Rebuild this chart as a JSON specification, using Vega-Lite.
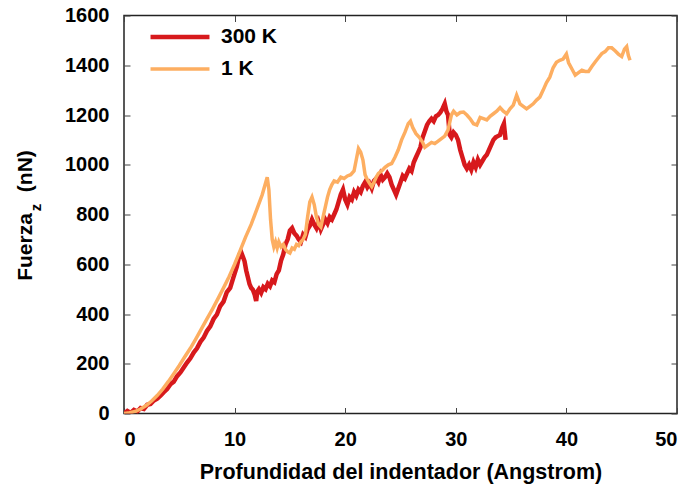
{
  "$schema": "https://vega.github.io/schema/vega-lite/v6.json",
  "width": 553,
  "height": 398,
  "autosize": "none",
  "padding": {"left": 124, "top": 15.5, "right": 19, "bottom": 71.5},
  "background": "white",
  "config": {
    "view": {"stroke": "#222222", "strokeWidth": 1.5},
    "font": "Liberation Sans",
    "axis": {"domain": false, "grid": false, "offset": -6, "labelFont": "Liberation Sans", "labelFontWeight": "bold", "labelFontSize": 20, "labelColor": "#000000", "titleFont": "Liberation Sans", "titleFontWeight": "bold", "titleColor": "#000000", "tickColor": "#444444", "tickWidth": 1, "tickSize": 6, "format": "d"}
  },
  "datasets": {
    "curves": [
      {"d": 0.0, "f": 0, "s": "300 K"}, {"d": 0.3, "f": 10, "s": "300 K"}, {"d": 0.6, "f": 2, "s": "300 K"}, {"d": 0.9, "f": 14, "s": "300 K"}, {"d": 1.2, "f": 8, "s": "300 K"}, {"d": 1.5, "f": 22, "s": "300 K"}, {"d": 1.8, "f": 18, "s": "300 K"}, {"d": 2.1, "f": 35, "s": "300 K"}, {"d": 2.4, "f": 38, "s": "300 K"}, {"d": 2.7, "f": 52, "s": "300 K"}, {"d": 3.0, "f": 60, "s": "300 K"}, {"d": 3.3, "f": 72, "s": "300 K"}, {"d": 3.6, "f": 86, "s": "300 K"}, {"d": 3.9, "f": 98, "s": "300 K"}, {"d": 4.2, "f": 118, "s": "300 K"}, {"d": 4.5, "f": 128, "s": "300 K"}, {"d": 4.8, "f": 150, "s": "300 K"}, {"d": 5.1, "f": 165, "s": "300 K"}, {"d": 5.4, "f": 185, "s": "300 K"}, {"d": 5.7, "f": 205, "s": "300 K"}, {"d": 6.0, "f": 222, "s": "300 K"}, {"d": 6.3, "f": 245, "s": "300 K"}, {"d": 6.6, "f": 262, "s": "300 K"}, {"d": 6.9, "f": 288, "s": "300 K"}, {"d": 7.2, "f": 305, "s": "300 K"}, {"d": 7.5, "f": 332, "s": "300 K"}, {"d": 7.8, "f": 350, "s": "300 K"}, {"d": 8.1, "f": 380, "s": "300 K"}, {"d": 8.4, "f": 398, "s": "300 K"}, {"d": 8.7, "f": 432, "s": "300 K"}, {"d": 9.0, "f": 450, "s": "300 K"}, {"d": 9.3, "f": 488, "s": "300 K"}, {"d": 9.6, "f": 505, "s": "300 K"}, {"d": 9.9, "f": 548, "s": "300 K"}, {"d": 10.2, "f": 590, "s": "300 K"}, {"d": 10.45, "f": 640, "s": "300 K"}, {"d": 10.6, "f": 648, "s": "300 K"}, {"d": 10.75, "f": 630, "s": "300 K"}, {"d": 10.9, "f": 612, "s": "300 K"}, {"d": 11.05, "f": 575, "s": "300 K"}, {"d": 11.2, "f": 548, "s": "300 K"}, {"d": 11.35, "f": 520, "s": "300 K"}, {"d": 11.5, "f": 505, "s": "300 K"}, {"d": 11.65, "f": 498, "s": "300 K"}, {"d": 11.8, "f": 480, "s": "300 K"}, {"d": 11.95, "f": 452, "s": "300 K"}, {"d": 12.05, "f": 490, "s": "300 K"}, {"d": 12.2, "f": 500, "s": "300 K"}, {"d": 12.4, "f": 485, "s": "300 K"}, {"d": 12.6, "f": 508, "s": "300 K"}, {"d": 12.8, "f": 500, "s": "300 K"}, {"d": 13.0, "f": 522, "s": "300 K"}, {"d": 13.2, "f": 512, "s": "300 K"}, {"d": 13.4, "f": 535, "s": "300 K"}, {"d": 13.6, "f": 528, "s": "300 K"}, {"d": 13.8, "f": 560, "s": "300 K"}, {"d": 14.0, "f": 575, "s": "300 K"}, {"d": 14.2, "f": 615, "s": "300 K"}, {"d": 14.4, "f": 640, "s": "300 K"}, {"d": 14.6, "f": 680, "s": "300 K"}, {"d": 14.8, "f": 700, "s": "300 K"}, {"d": 15.0, "f": 735, "s": "300 K"}, {"d": 15.2, "f": 745, "s": "300 K"}, {"d": 15.4, "f": 725, "s": "300 K"}, {"d": 15.6, "f": 715, "s": "300 K"}, {"d": 15.8, "f": 700, "s": "300 K"}, {"d": 16.0, "f": 690, "s": "300 K"}, {"d": 16.2, "f": 720, "s": "300 K"}, {"d": 16.4, "f": 710, "s": "300 K"}, {"d": 16.6, "f": 740, "s": "300 K"}, {"d": 16.8, "f": 755, "s": "300 K"}, {"d": 17.0, "f": 780, "s": "300 K"}, {"d": 17.2, "f": 760, "s": "300 K"}, {"d": 17.4, "f": 745, "s": "300 K"}, {"d": 17.6, "f": 770, "s": "300 K"}, {"d": 17.8, "f": 740, "s": "300 K"}, {"d": 18.0, "f": 760, "s": "300 K"}, {"d": 18.2, "f": 780, "s": "300 K"}, {"d": 18.4, "f": 765, "s": "300 K"}, {"d": 18.6, "f": 790, "s": "300 K"}, {"d": 18.8, "f": 780, "s": "300 K"}, {"d": 19.0, "f": 800, "s": "300 K"}, {"d": 19.2, "f": 820, "s": "300 K"}, {"d": 19.4, "f": 850, "s": "300 K"}, {"d": 19.6, "f": 880, "s": "300 K"}, {"d": 19.8, "f": 900, "s": "300 K"}, {"d": 20.0, "f": 860, "s": "300 K"}, {"d": 20.2, "f": 840, "s": "300 K"}, {"d": 20.4, "f": 870, "s": "300 K"}, {"d": 20.6, "f": 860, "s": "300 K"}, {"d": 20.8, "f": 890, "s": "300 K"}, {"d": 21.0, "f": 875, "s": "300 K"}, {"d": 21.2, "f": 900, "s": "300 K"}, {"d": 21.4, "f": 890, "s": "300 K"}, {"d": 21.6, "f": 915, "s": "300 K"}, {"d": 21.8, "f": 930, "s": "300 K"}, {"d": 22.0, "f": 910, "s": "300 K"}, {"d": 22.2, "f": 925, "s": "300 K"}, {"d": 22.4, "f": 905, "s": "300 K"}, {"d": 22.6, "f": 935, "s": "300 K"}, {"d": 22.8, "f": 945, "s": "300 K"}, {"d": 23.0, "f": 930, "s": "300 K"}, {"d": 23.2, "f": 960, "s": "300 K"}, {"d": 23.4, "f": 940, "s": "300 K"}, {"d": 23.6, "f": 950, "s": "300 K"}, {"d": 23.8, "f": 965, "s": "300 K"}, {"d": 24.0, "f": 950, "s": "300 K"}, {"d": 24.2, "f": 920, "s": "300 K"}, {"d": 24.4, "f": 900, "s": "300 K"}, {"d": 24.6, "f": 880, "s": "300 K"}, {"d": 24.8, "f": 905, "s": "300 K"}, {"d": 25.0, "f": 930, "s": "300 K"}, {"d": 25.2, "f": 955, "s": "300 K"}, {"d": 25.4, "f": 945, "s": "300 K"}, {"d": 25.6, "f": 965, "s": "300 K"}, {"d": 25.8, "f": 985, "s": "300 K"}, {"d": 26.0, "f": 975, "s": "300 K"}, {"d": 26.2, "f": 1010, "s": "300 K"}, {"d": 26.4, "f": 1030, "s": "300 K"}, {"d": 26.6, "f": 1050, "s": "300 K"}, {"d": 26.8, "f": 1070, "s": "300 K"}, {"d": 27.0, "f": 1110, "s": "300 K"}, {"d": 27.2, "f": 1135, "s": "300 K"}, {"d": 27.4, "f": 1160, "s": "300 K"}, {"d": 27.6, "f": 1175, "s": "300 K"}, {"d": 27.8, "f": 1185, "s": "300 K"}, {"d": 28.0, "f": 1175, "s": "300 K"}, {"d": 28.2, "f": 1195, "s": "300 K"}, {"d": 28.4, "f": 1200, "s": "300 K"}, {"d": 28.6, "f": 1210, "s": "300 K"}, {"d": 28.8, "f": 1225, "s": "300 K"}, {"d": 29.0, "f": 1245, "s": "300 K"}, {"d": 29.15, "f": 1215, "s": "300 K"}, {"d": 29.3, "f": 1200, "s": "300 K"}, {"d": 29.45, "f": 1120, "s": "300 K"}, {"d": 29.6, "f": 1110, "s": "300 K"}, {"d": 29.8, "f": 1130, "s": "300 K"}, {"d": 30.0, "f": 1120, "s": "300 K"}, {"d": 30.2, "f": 1100, "s": "300 K"}, {"d": 30.4, "f": 1060, "s": "300 K"}, {"d": 30.6, "f": 1030, "s": "300 K"}, {"d": 30.8, "f": 1000, "s": "300 K"}, {"d": 31.0, "f": 985, "s": "300 K"}, {"d": 31.2, "f": 1000, "s": "300 K"}, {"d": 31.4, "f": 980, "s": "300 K"}, {"d": 31.6, "f": 1010, "s": "300 K"}, {"d": 31.8, "f": 990, "s": "300 K"}, {"d": 32.0, "f": 1020, "s": "300 K"}, {"d": 32.2, "f": 1000, "s": "300 K"}, {"d": 32.4, "f": 1015, "s": "300 K"}, {"d": 32.6, "f": 1030, "s": "300 K"}, {"d": 32.8, "f": 1040, "s": "300 K"}, {"d": 33.0, "f": 1060, "s": "300 K"}, {"d": 33.2, "f": 1080, "s": "300 K"}, {"d": 33.4, "f": 1100, "s": "300 K"}, {"d": 33.6, "f": 1110, "s": "300 K"}, {"d": 33.8, "f": 1115, "s": "300 K"}, {"d": 34.0, "f": 1120, "s": "300 K"}, {"d": 34.2, "f": 1150, "s": "300 K"}, {"d": 34.35, "f": 1165, "s": "300 K"}, {"d": 34.5, "f": 1100, "s": "300 K"},
      {"d": 0.0, "f": 0, "s": "1 K"}, {"d": 0.5, "f": 3, "s": "1 K"}, {"d": 1.0, "f": 8, "s": "1 K"}, {"d": 1.5, "f": 18, "s": "1 K"}, {"d": 2.0, "f": 32, "s": "1 K"}, {"d": 2.5, "f": 50, "s": "1 K"}, {"d": 3.0, "f": 72, "s": "1 K"}, {"d": 3.5, "f": 98, "s": "1 K"}, {"d": 4.0, "f": 128, "s": "1 K"}, {"d": 4.5, "f": 160, "s": "1 K"}, {"d": 5.0, "f": 193, "s": "1 K"}, {"d": 5.5, "f": 228, "s": "1 K"}, {"d": 6.0, "f": 262, "s": "1 K"}, {"d": 6.5, "f": 300, "s": "1 K"}, {"d": 7.0, "f": 340, "s": "1 K"}, {"d": 7.5, "f": 380, "s": "1 K"}, {"d": 8.0, "f": 420, "s": "1 K"}, {"d": 8.5, "f": 462, "s": "1 K"}, {"d": 9.0, "f": 505, "s": "1 K"}, {"d": 9.5, "f": 550, "s": "1 K"}, {"d": 10.0, "f": 600, "s": "1 K"}, {"d": 10.5, "f": 655, "s": "1 K"}, {"d": 11.0, "f": 710, "s": "1 K"}, {"d": 11.5, "f": 760, "s": "1 K"}, {"d": 12.0, "f": 820, "s": "1 K"}, {"d": 12.5, "f": 880, "s": "1 K"}, {"d": 12.95, "f": 950, "s": "1 K"}, {"d": 13.1, "f": 900, "s": "1 K"}, {"d": 13.25, "f": 780, "s": "1 K"}, {"d": 13.4, "f": 700, "s": "1 K"}, {"d": 13.55, "f": 670, "s": "1 K"}, {"d": 13.7, "f": 690, "s": "1 K"}, {"d": 13.85, "f": 665, "s": "1 K"}, {"d": 14.0, "f": 690, "s": "1 K"}, {"d": 14.2, "f": 670, "s": "1 K"}, {"d": 14.4, "f": 680, "s": "1 K"}, {"d": 14.6, "f": 660, "s": "1 K"}, {"d": 14.8, "f": 650, "s": "1 K"}, {"d": 15.0, "f": 645, "s": "1 K"}, {"d": 15.2, "f": 665, "s": "1 K"}, {"d": 15.4, "f": 660, "s": "1 K"}, {"d": 15.6, "f": 680, "s": "1 K"}, {"d": 15.8, "f": 675, "s": "1 K"}, {"d": 16.0, "f": 690, "s": "1 K"}, {"d": 16.2, "f": 700, "s": "1 K"}, {"d": 16.4, "f": 720, "s": "1 K"}, {"d": 16.6, "f": 790, "s": "1 K"}, {"d": 16.8, "f": 850, "s": "1 K"}, {"d": 17.0, "f": 870, "s": "1 K"}, {"d": 17.2, "f": 840, "s": "1 K"}, {"d": 17.4, "f": 790, "s": "1 K"}, {"d": 17.6, "f": 760, "s": "1 K"}, {"d": 17.8, "f": 750, "s": "1 K"}, {"d": 18.0, "f": 790, "s": "1 K"}, {"d": 18.2, "f": 830, "s": "1 K"}, {"d": 18.4, "f": 870, "s": "1 K"}, {"d": 18.6, "f": 900, "s": "1 K"}, {"d": 18.8, "f": 920, "s": "1 K"}, {"d": 19.0, "f": 935, "s": "1 K"}, {"d": 19.3, "f": 930, "s": "1 K"}, {"d": 19.6, "f": 950, "s": "1 K"}, {"d": 19.9, "f": 945, "s": "1 K"}, {"d": 20.2, "f": 955, "s": "1 K"}, {"d": 20.5, "f": 960, "s": "1 K"}, {"d": 20.8, "f": 975, "s": "1 K"}, {"d": 21.0, "f": 1020, "s": "1 K"}, {"d": 21.2, "f": 1065, "s": "1 K"}, {"d": 21.4, "f": 1050, "s": "1 K"}, {"d": 21.6, "f": 1020, "s": "1 K"}, {"d": 21.8, "f": 960, "s": "1 K"}, {"d": 22.0, "f": 940, "s": "1 K"}, {"d": 22.2, "f": 925, "s": "1 K"}, {"d": 22.4, "f": 912, "s": "1 K"}, {"d": 22.6, "f": 930, "s": "1 K"}, {"d": 22.8, "f": 950, "s": "1 K"}, {"d": 23.0, "f": 965, "s": "1 K"}, {"d": 23.3, "f": 975, "s": "1 K"}, {"d": 23.6, "f": 990, "s": "1 K"}, {"d": 23.9, "f": 1000, "s": "1 K"}, {"d": 24.2, "f": 1005, "s": "1 K"}, {"d": 24.5, "f": 1030, "s": "1 K"}, {"d": 24.8, "f": 1060, "s": "1 K"}, {"d": 25.1, "f": 1100, "s": "1 K"}, {"d": 25.4, "f": 1130, "s": "1 K"}, {"d": 25.7, "f": 1165, "s": "1 K"}, {"d": 25.9, "f": 1175, "s": "1 K"}, {"d": 26.1, "f": 1150, "s": "1 K"}, {"d": 26.4, "f": 1125, "s": "1 K"}, {"d": 26.7, "f": 1110, "s": "1 K"}, {"d": 27.0, "f": 1090, "s": "1 K"}, {"d": 27.2, "f": 1070, "s": "1 K"}, {"d": 27.5, "f": 1080, "s": "1 K"}, {"d": 27.8, "f": 1090, "s": "1 K"}, {"d": 28.1, "f": 1085, "s": "1 K"}, {"d": 28.4, "f": 1095, "s": "1 K"}, {"d": 28.7, "f": 1105, "s": "1 K"}, {"d": 29.0, "f": 1115, "s": "1 K"}, {"d": 29.3, "f": 1140, "s": "1 K"}, {"d": 29.6, "f": 1200, "s": "1 K"}, {"d": 29.8, "f": 1215, "s": "1 K"}, {"d": 30.1, "f": 1200, "s": "1 K"}, {"d": 30.4, "f": 1210, "s": "1 K"}, {"d": 30.7, "f": 1212, "s": "1 K"}, {"d": 31.0, "f": 1200, "s": "1 K"}, {"d": 31.3, "f": 1185, "s": "1 K"}, {"d": 31.6, "f": 1165, "s": "1 K"}, {"d": 31.9, "f": 1160, "s": "1 K"}, {"d": 32.2, "f": 1190, "s": "1 K"}, {"d": 32.5, "f": 1185, "s": "1 K"}, {"d": 32.8, "f": 1180, "s": "1 K"}, {"d": 33.1, "f": 1195, "s": "1 K"}, {"d": 33.4, "f": 1205, "s": "1 K"}, {"d": 33.7, "f": 1215, "s": "1 K"}, {"d": 34.0, "f": 1230, "s": "1 K"}, {"d": 34.3, "f": 1215, "s": "1 K"}, {"d": 34.6, "f": 1205, "s": "1 K"}, {"d": 34.9, "f": 1225, "s": "1 K"}, {"d": 35.2, "f": 1240, "s": "1 K"}, {"d": 35.5, "f": 1280, "s": "1 K"}, {"d": 35.8, "f": 1245, "s": "1 K"}, {"d": 36.1, "f": 1235, "s": "1 K"}, {"d": 36.4, "f": 1225, "s": "1 K"}, {"d": 36.7, "f": 1235, "s": "1 K"}, {"d": 37.0, "f": 1245, "s": "1 K"}, {"d": 37.3, "f": 1260, "s": "1 K"}, {"d": 37.6, "f": 1272, "s": "1 K"}, {"d": 37.9, "f": 1300, "s": "1 K"}, {"d": 38.2, "f": 1330, "s": "1 K"}, {"d": 38.5, "f": 1352, "s": "1 K"}, {"d": 38.8, "f": 1390, "s": "1 K"}, {"d": 39.1, "f": 1412, "s": "1 K"}, {"d": 39.4, "f": 1420, "s": "1 K"}, {"d": 39.7, "f": 1425, "s": "1 K"}, {"d": 40.0, "f": 1445, "s": "1 K"}, {"d": 40.2, "f": 1410, "s": "1 K"}, {"d": 40.5, "f": 1385, "s": "1 K"}, {"d": 40.8, "f": 1360, "s": "1 K"}, {"d": 41.1, "f": 1370, "s": "1 K"}, {"d": 41.4, "f": 1380, "s": "1 K"}, {"d": 41.7, "f": 1375, "s": "1 K"}, {"d": 42.0, "f": 1375, "s": "1 K"}, {"d": 42.3, "f": 1395, "s": "1 K"}, {"d": 42.6, "f": 1413, "s": "1 K"}, {"d": 42.9, "f": 1430, "s": "1 K"}, {"d": 43.2, "f": 1447, "s": "1 K"}, {"d": 43.5, "f": 1455, "s": "1 K"}, {"d": 43.8, "f": 1470, "s": "1 K"}, {"d": 44.1, "f": 1470, "s": "1 K"}, {"d": 44.4, "f": 1458, "s": "1 K"}, {"d": 44.7, "f": 1445, "s": "1 K"}, {"d": 45.0, "f": 1435, "s": "1 K"}, {"d": 45.25, "f": 1465, "s": "1 K"}, {"d": 45.45, "f": 1475, "s": "1 K"}, {"d": 45.6, "f": 1440, "s": "1 K"}, {"d": 45.75, "f": 1420, "s": "1 K"}
    ]
  },
  "data": {"name": "curves"},
  "layer": [
    {
      "mark": {"type": "line", "clip": true},
      "encoding": {
        "x": {"field": "d", "type": "quantitative", "scale": {"domain": [0, 50], "nice": false, "zero": false},
          "axis": {"orient": "bottom", "values": [0, 10, 20, 30, 40, 50], "labelPadding": 16, "title": "Profundidad del indentador (Angstrom)", "titleFontSize": 21.5, "titleX": 276.5, "titleY": 71, "titleBaseline": "alphabetic", "titleAlign": "center"}},
        "y": {"field": "f", "type": "quantitative", "scale": {"domain": [0, 1600], "nice": false, "zero": false},
          "axis": {"orient": "left", "values": [0, 200, 400, 600, 800, 1000, 1200, 1400, 1600], "labelPadding": 15, "title": "Fuerza\u2002\u2002(nN)", "titleFontSize": 21, "titleAngle": -90, "titleX": -99, "titleY": 199.5, "titleBaseline": "alphabetic", "titleAlign": "center"}},
        "color": {"field": "s", "type": "nominal", "sort": ["300 K", "1 K"],
          "scale": {"domain": ["300 K", "1 K"], "range": ["#d7191c", "#fdae61"]},
          "legend": {"title": null, "orient": "none", "legendX": 45.5, "legendY": 11, "symbolType": "M-5,0H5", "symbolSize": 139, "symbolStrokeWidth": 4, "labelFont": "Liberation Sans", "labelFontWeight": "bold", "labelFontSize": 21, "labelColor": "#000000", "labelOffset": 30.5, "rowPadding": 10}},
        "strokeWidth": {"field": "s", "type": "nominal", "scale": {"domain": ["300 K", "1 K"], "range": [4.5, 3.5]}, "legend": null},
        "order": {"field": "s", "sort": "descending"}
      }
    },
    {
      "mark": {"type": "line", "opacity": 0, "clip": true},
      "encoding": {
        "x": {"field": "d", "type": "quantitative", "axis": {"orient": "top", "values": [0, 10, 20, 30, 40, 50], "labels": false, "title": null}},
        "y": {"field": "f", "type": "quantitative", "axis": {"orient": "right", "values": [0, 200, 400, 600, 800, 1000, 1200, 1400, 1600], "labels": false, "title": "z", "titleFontSize": 15, "titleAngle": -90, "titleX": -631, "titleY": 191.5, "titleBaseline": "alphabetic", "titleAlign": "center"}},
        "detail": {"field": "s"}
      }
    }
  ],
  "resolve": {"axis": {"x": "independent", "y": "independent"}}
}
